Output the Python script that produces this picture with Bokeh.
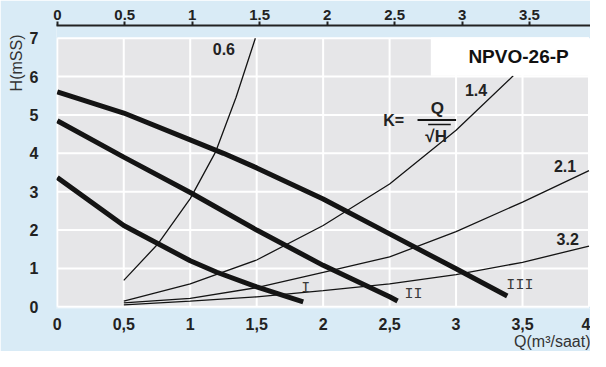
from bokeh.plotting import figure
from bokeh.models import Range1d, LinearAxis, FixedTicker, Label, Title
from bokeh.embed import file_html
from bokeh.resources import INLINE

# ---------------- data ----------------
x_ticks = [0, 0.5, 1, 1.5, 2, 2.5, 3, 3.5, 4]
x_tick_labels = ["0", "0,5", "1", "1,5", "2", "2,5", "3", "3,5", "4"]
top_ticks = [0, 0.5, 1, 1.5, 2, 2.5, 3, 3.5]
top_tick_labels = ["0", "0.5", "1", "1.5", "2", "2.5", "3", "3.5"]
y_ticks = [0, 1, 2, 3, 4, 5, 6, 7]
x_title = "Q(m³/saat)"
y_title = "H(mSS)"

# pump curves (speed I, II, III): Q (m3/h) vs H (mSS)
pump_I_q = [0.0, 0.5, 1.0, 1.2, 1.5, 1.85]
pump_I_h = [3.37, 2.12, 1.2, 0.9, 0.52, 0.13]
pump_II_q = [0.0, 0.5, 1.0, 1.5, 2.0, 2.5, 2.56]
pump_II_h = [4.85, 3.9, 2.98, 2.0, 1.08, 0.26, 0.15]
pump_III_q = [0.0, 0.5, 1.0, 1.25, 1.5, 2.0, 2.5, 3.0, 3.385]
pump_III_h = [5.6, 5.05, 4.35, 4.0, 3.62, 2.81, 1.9, 0.99, 0.28]
speed_labels = ["I", "II", "III"]

# system curves K = Q / sqrt(H)
k_06_q = [0.5, 0.76, 1.0, 1.19, 1.345, 1.49]
k_06_h = [0.69, 1.65, 2.82, 4.03, 5.46, 7.0]
k_14_q = [0.5, 1.0, 1.5, 2.0, 2.5, 3.0, 3.43]
k_14_h = [0.15, 0.6, 1.22, 2.12, 3.2, 4.6, 6.02]
k_21_q = [0.5, 1.0, 1.5, 2.0, 2.5, 3.0, 3.5, 4.0]
k_21_h = [0.1, 0.22, 0.5, 0.9, 1.3, 1.96, 2.73, 3.55]
k_32_q = [0.5, 1.0, 1.5, 2.0, 2.5, 3.0, 3.5, 4.0]
k_32_h = [0.05, 0.15, 0.26, 0.42, 0.6, 0.84, 1.16, 1.58]
k_labels = ["0.6", "1.4", "2.1", "3.2"]

model_name = "NPVO-26-P"

# ---------------- styling ----------------
BG = "#d9ebf6"
PLOT_BG = "#e6e6e8"
INK = "#141414"
TXT = "#222222"
FONT = "Liberation Sans"

p = figure(width=590, height=351,
           x_range=Range1d(-0.006, 4.0113), y_range=Range1d(-0.0443, 7.331),
           output_backend="svg", toolbar_location=None,
           min_border_left=56, min_border_right=0, min_border_top=25, min_border_bottom=43,
           background_fill_color=BG, border_fill_color=BG, outline_line_color=None)
p.xgrid.visible = False
p.ygrid.visible = False

# left axis
yax = p.left[0]
yax.ticker = FixedTicker(ticks=y_ticks)
yax.axis_line_color = None
yax.major_tick_line_color = None
yax.minor_tick_line_color = None
yax.major_label_standoff = 12
yax.major_label_text_font = FONT
yax.major_label_text_font_style = "bold"
yax.major_label_text_font_size = "16px"
yax.major_label_text_color = TXT

# bottom axis
xax = p.below[0]
xax.ticker = FixedTicker(ticks=x_ticks)
xax.major_label_overrides = dict(zip(x_ticks, x_tick_labels))
xax.axis_line_color = None
xax.major_tick_line_color = None
xax.minor_tick_line_color = None
xax.major_label_standoff = 3
xax.major_label_text_font = FONT
xax.major_label_text_font_style = "bold"
xax.major_label_text_font_size = "16px"
xax.major_label_text_color = TXT

# top axis
p.extra_x_ranges = {"top": Range1d(-0.006, 3.952)}
tax = LinearAxis(x_range_name="top", ticker=FixedTicker(ticks=top_ticks),
                 major_label_overrides=dict(zip(top_ticks, top_tick_labels)),
                 axis_line_width=2, axis_line_color=TXT,
                 major_tick_out=4, major_tick_in=0, major_tick_line_width=2,
                 major_tick_line_color=TXT, minor_tick_line_color=None,
                 major_label_standoff=2, major_label_text_font=FONT,
                 major_label_text_font_style="bold", major_label_text_font_size="15px",
                 major_label_text_color=TXT)
p.add_layout(tax, "above")

# axis titles
p.add_layout(Title(text=x_title, align="right", vertical_align="top", text_font=FONT,
                   text_font_style="normal", text_font_size="16px", text_color="#333333",
                   standoff=0, offset=0), "below")
p.add_layout(Title(text=y_title, align="right", text_font=FONT, text_font_style="normal",
                   text_font_size="16px", text_color="#333333", standoff=4, offset=9), "left")

# plotting area and grid
x0, x1 = min(x_ticks), max(x_ticks)
y0, y1 = min(y_ticks), max(y_ticks)
p.quad(left=[x0], right=[x1], bottom=[y0], top=[y1], fill_color=PLOT_BG, line_color=None)
p.segment(x0=x_ticks, y0=[y0] * len(x_ticks), x1=x_ticks, y1=[y1] * len(x_ticks),
          line_color="white", line_width=2)
p.segment(x0=[x0] * len(y_ticks), y0=y_ticks, x1=[x1] * len(y_ticks), y1=y_ticks,
          line_color="white", line_width=2)

# system curves
for q, h in [(k_06_q, k_06_h), (k_14_q, k_14_h), (k_21_q, k_21_h), (k_32_q, k_32_h)]:
    p.line(q, h, line_color=INK, line_width=1.3)

# pump curves
for q, h in [(pump_I_q, pump_I_h), (pump_II_q, pump_II_h), (pump_III_q, pump_III_h)]:
    p.line(q, h, line_color=INK, line_width=5)

# model box
p.quad(left=[2.81], right=[4.0], bottom=[6.02], top=[7.02], fill_color="white", line_color=None)
p.add_layout(Label(x=3.47, y=6.52, text=model_name, text_font=FONT, text_font_style="bold",
                   text_font_size="19px", text_color="#111111", text_align="center",
                   text_baseline="middle"))

# K labels
k_pos = [(1.253, 6.71), (3.15, 5.66), (3.82, 3.68), (3.84, 1.77)]
for (lx, ly), t in zip(k_pos, k_labels):
    p.add_layout(Label(x=lx, y=ly, text=t, text_font=FONT, text_font_style="bold",
                       text_font_size="16px", text_color=TXT, text_align="center",
                       text_baseline="middle"))

# speed labels
s_pos = [(1.87, 0.47), (2.68, 0.32), (3.48, 0.56)]
for (lx, ly), t in zip(s_pos, speed_labels):
    p.add_layout(Label(x=lx, y=ly, text=t, text_font="Liberation Mono",
                       text_font_size="15px", text_color="#3a3a3a", text_align="center",
                       text_baseline="middle"))

# formula K = Q / sqrt(H)
p.add_layout(Label(x=2.53, y=4.85, text="K=", text_font=FONT, text_font_style="bold",
                   text_font_size="16px", text_color=TXT, text_align="center",
                   text_baseline="middle"))
p.add_layout(Label(x=2.86, y=5.17, text="Q", text_font=FONT, text_font_style="bold",
                   text_font_size="17px", text_color=TXT, text_align="center",
                   text_baseline="middle"))
p.add_layout(Label(x=2.85, y=4.44, text="√H", text_font=FONT, text_font_style="bold",
                   text_font_size="17px", text_color=TXT, text_align="center",
                   text_baseline="middle"))
p.segment(x0=[2.71], y0=[4.87], x1=[3.0], y1=[4.87], line_color=INK, line_width=2)
p.segment(x0=[2.79], y0=[4.75], x1=[2.96], y1=[4.75], line_color=INK, line_width=1.5)

open("out.html", "w").write(file_html(p, INLINE))
